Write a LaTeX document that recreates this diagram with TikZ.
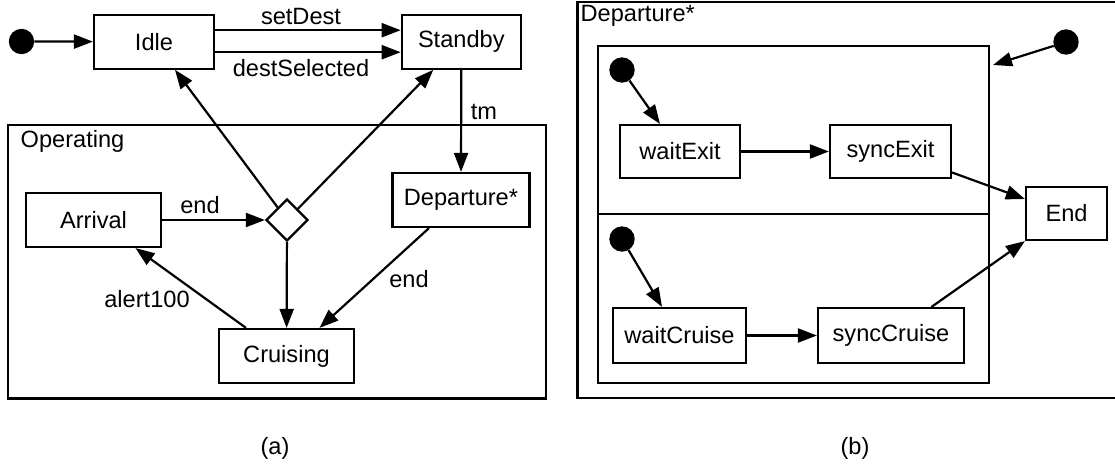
\documentclass[tikz,border=0pt]{standalone}
\usepackage{fontspec}
\setmainfont{Liberation Sans}
\usetikzlibrary{arrows.meta,shapes.geometric}
\begin{document}
\begin{tikzpicture}[x=1pt,y=-1pt,
  every node/.style={font=\fontsize{23.6}{28}\selectfont, inner sep=0pt},
  state/.style={draw, line width=2.2pt, minimum height=54pt},
  choice/.style={draw, diamond, aspect=1, line width=2.2pt, minimum width=42pt, minimum height=42pt},
  startdot/.style={circle, fill=black, minimum size=25.4pt},
  frame/.style={draw, line width=2.2pt},
  flow/.style={line width=2.2pt, -{Triangle[length=19pt,width=14pt]}},
  lbl/.style={anchor=base},
  ]
\useasboundingbox (0,0) rectangle (1115,463);

% ---------- (a) top-level state machine ----------
\draw[frame] (8,125) rectangle (546,398.5);
\node[anchor=base west] (lop) at (20.5,147) {Operating};

\node[startdot] (init) at (21.5,41.5) {};
\node[state, minimum width=120pt, minimum height=54pt] (idle) at (154,41.7) {Idle};
\node[state, minimum width=119pt, minimum height=54pt] (standby) at (461.3,41.7) {Standby};
\node[state, minimum width=137pt] (dep) at (461,200) {Departure*};
\node[state, minimum width=135pt] (arr) at (93.5,220) {Arrival};
\node[choice] (dia) at (287,220) {};
\node[state, minimum width=135pt] (cru) at (286.5,356) {Cruising};

\draw[flow] (init) -- (idle);
\draw[flow] ([yshift=11.5pt]idle.east) -- ([yshift=11.5pt]standby.west);
\draw[flow] ([yshift=-10.5pt]idle.east) -- ([yshift=-10.5pt]standby.west);
\draw[flow] (standby.south) -- (dep.north);
\draw[flow] (arr) -- (dia);
\draw[flow] (dia) -- ([xshift=21pt]idle.south);
\draw[flow] (dia) -- ([xshift=-28pt]standby.south);
\draw[flow] (dia) -- (cru);
\draw[flow] ([xshift=-32pt]dep.south) -- ([xshift=33pt]cru.north);
\draw[flow] ([xshift=-40.5pt]cru.north) -- ([xshift=42pt]arr.south);

\node[lbl] (lsetdest) at (301,24.5) {setDest};
\node[lbl] (ldestsel) at (301,76) {destSelected};
\node[lbl] (ltm) at (484,119) {tm};
\node[lbl] (lend1) at (200,213.5) {end};
\node[lbl] (lend2) at (409,287) {end};
\node[lbl] (lalert) at (147,307) {alert100};
\node (la) at (275,448) {(a)};

% ---------- (b) the Departure* composite state ----------
\draw[frame] (1117,2) -- (577.5,2) -- (577.5,398) -- (1117,398);
\node[anchor=base west] (ldep) at (580.5,21.5) {Departure*};

\draw[frame] (598,46) rectangle (989,383);
\draw[frame] (598,214) -- (989,214);
\coordinate (regcorner) at (993,65);

\node[startdot] (outer) at (1066,42) {};
\node[startdot] (dotA) at (622,70) {};
\node[startdot] (dotB) at (622,239) {};

\node[state, minimum width=120pt, minimum height=53pt] (wexit) at (680,151.5) {waitExit};
\node[state, minimum width=121pt, minimum height=53pt] (sexit) at (890.5,151.5) {syncExit};
\node[state, minimum width=133pt, minimum height=55pt] (wcruise) at (679.5,335.5) {waitCruise};
\node[state, minimum width=146pt, minimum height=55pt] (scruise) at (891,335.5) {syncCruise};
\node[state, minimum width=81pt, minimum height=53pt] (fin) at (1066.5,213.5) {End};

\draw[flow] (outer) -- (regcorner);
\draw[flow] (dotA) -- ([xshift=-20pt]wexit.north);
\draw[flow] (wexit) -- (sexit);
\draw[flow] ([yshift=-21pt]sexit.east) -- ([yshift=14.5pt]fin.west);
\draw[flow] (dotB) -- ([xshift=-17.5pt]wcruise.north);
\draw[flow] (wcruise) -- (scruise);
\draw[flow] ([xshift=40.5pt]scruise.north) -- (fin.south west);

\node (lb) at (855,448) {(b)};
\end{tikzpicture}
\end{document}
